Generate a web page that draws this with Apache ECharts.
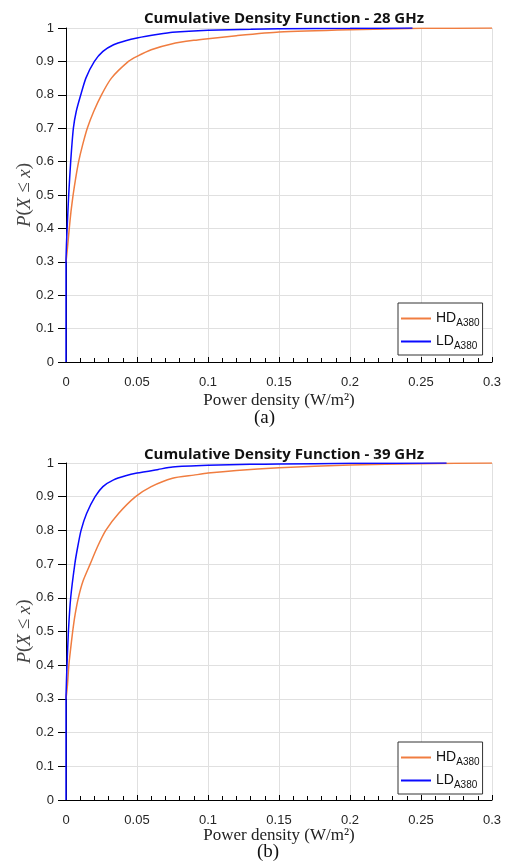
<!DOCTYPE html>
<html>
<head>
<meta charset="utf-8">
<script src="https://cdn.jsdelivr.net/npm/echarts@6/dist/echarts.min.js"></script>
<style>
  html, body { margin: 0; padding: 0; background: #fff; }
  #chart { width: 505px; height: 868px; }
</style>
</head>
<body>
<div id="chart"></div>
<script>
// CDF curves (x: W/m^2, y: probability)
const ld28X = [0, 0, 0.0003, 0.0008, 0.0019, 0.0033, 0.0052, 0.0072, 0.0104, 0.014, 0.020, 0.026, 0.0335, 0.042, 0.05, 0.065, 0.075, 0.1, 0.13, 0.15, 0.2, 0.244];
const ld28Y = [0, 0.30, 0.35, 0.40, 0.50, 0.60, 0.70, 0.75, 0.80, 0.85, 0.90, 0.93, 0.95, 0.962, 0.97, 0.981, 0.987, 0.993, 0.996, 0.998, 0.999, 1.0];
const hd28X = [0, 0.001, 0.0023, 0.0035, 0.005, 0.0068, 0.0089, 0.0117, 0.015, 0.0195, 0.025, 0.032, 0.044, 0.05, 0.06, 0.075, 0.09, 0.1, 0.12, 0.15, 0.2, 0.25, 0.3];
const hd28Y = [0.30, 0.34, 0.40, 0.45, 0.50, 0.55, 0.60, 0.65, 0.70, 0.75, 0.80, 0.85, 0.90, 0.915, 0.935, 0.953, 0.963, 0.968, 0.977, 0.988, 0.995, 0.999, 1.0];
const ld39X = [0, 0, 0.0003, 0.0007, 0.0017, 0.0033, 0.0062, 0.0082, 0.0106, 0.0145, 0.0205, 0.026, 0.0335, 0.042, 0.05, 0.065, 0.075, 0.1, 0.13, 0.15, 0.2, 0.268];
const ld39Y = [0, 0.30, 0.35, 0.40, 0.50, 0.60, 0.70, 0.75, 0.80, 0.85, 0.90, 0.93, 0.95, 0.962, 0.97, 0.981, 0.988, 0.993, 0.996, 0.997, 0.999, 1.0];
const hd39X = [0, 0.001, 0.002, 0.0033, 0.0047, 0.0064, 0.0087, 0.012, 0.017, 0.022, 0.028, 0.037, 0.049, 0.06, 0.075, 0.09, 0.1, 0.12, 0.15, 0.2, 0.25, 0.3];
const hd39Y = [0.30, 0.34, 0.40, 0.45, 0.50, 0.55, 0.60, 0.65, 0.70, 0.75, 0.80, 0.85, 0.90, 0.93, 0.955, 0.964, 0.97, 0.978, 0.986, 0.994, 0.998, 1.0];
const xTicks = [0, 0.05, 0.1, 0.15, 0.2, 0.25, 0.3];
const titles = ['Cumulative Density Function - 28 GHz', 'Cumulative Density Function - 39 GHz'];
const captions = ['(a)', '(b)'];

const HD_COLOR = '#f07d40';
const LD_COLOR = '#0a0aff';

function pairs(xs, ys) {
  return xs.map((x, i) => [x, ys[i]]);
}

const chart = echarts.init(document.getElementById('chart'));

const grids = [
  { left: 66, width: 426, top: 28, height: 334 },
  { left: 66, width: 426, top: 463, height: 337 }
];

function xAxisOf(idx, gap) {
  return {
    gridIndex: idx,
    type: 'value',
    min: 0,
    max: 0.3,
    interval: 0.05,
    name: 'Power density (W/m²)',
    nameLocation: 'middle',
    nameGap: gap,
    nameMoveOverlap: false,
    nameTextStyle: { fontFamily: 'Liberation Serif', fontSize: 17, color: '#222' },
    axisLine: { show: true, onZero: false, lineStyle: { color: '#000', width: 1 } },
    axisTick: { show: true, inside: true, length: 5, lineStyle: { color: '#000' } },
    minorTick: { show: true, splitNumber: 5, length: 4, lineStyle: { color: '#000' } },
    axisLabel: {
      fontFamily: 'Liberation Sans', fontSize: 13, color: '#262626', margin: 14,
      formatter: v => {
        const t = xTicks.find(k => Math.abs(k - v) < 1e-9);
        return t === undefined ? '' : String(t);
      }
    },
    splitLine: { show: true, lineStyle: { color: '#e0e0e0', width: 1 } }
  };
}

function yAxisOf(idx) {
  return {
    gridIndex: idx,
    type: 'value',
    min: 0,
    max: 1,
    interval: 0.1,
    name: '{i|P}{r|(}{i|X}{r| ≤ }{i|x}{r|)}',
    nameLocation: 'middle',
    nameGap: 32,
    nameMoveOverlap: false,
    nameTextStyle: {
      rich: {
        i: { fontFamily: 'Liberation Serif', fontStyle: 'italic', fontSize: 19, color: '#444' },
        r: { fontFamily: 'Liberation Serif', fontSize: 19, color: '#444' }
      }
    },
    axisLine: { show: true, onZero: false, lineStyle: { color: '#000', width: 1 } },
    axisTick: { show: true, inside: false, length: 8, lineStyle: { color: '#000' } },
    axisLabel: { fontFamily: 'Liberation Sans', fontSize: 13, color: '#262626', margin: 12 },
    splitLine: { show: true, lineStyle: { color: '#e0e0e0', width: 1 } }
  };
}

function legendOf(top) {
  return {
    orient: 'vertical',
    left: 398,
    top: top,
    padding: [6, 3, 4, 3],
    itemGap: 4,
    itemWidth: 30,
    itemHeight: 2,
    icon: 'rect',
    backgroundColor: '#fff',
    borderColor: '#333',
    borderWidth: 1,
    borderRadius: 0,
    data: ['HD', 'LD'],
    formatter: name => '{m|' + name + '}{s|A380}',
    textStyle: {
      rich: {
        m: { fontFamily: 'Liberation Sans', fontSize: 14, color: '#111', lineHeight: 20 },
        s: { fontFamily: 'Liberation Sans', fontSize: 10, color: '#111', lineHeight: 20, padding: [9, 0, 0, 0] }
      }
    }
  };
}

function lineSeries(name, color, data, idx) {
  return {
    name: name,
    type: 'line',
    xAxisIndex: idx,
    yAxisIndex: idx,
    data: data,
    symbol: 'none',
    smooth: 0.2,
    lineStyle: { color: color, width: 1.5 },
    itemStyle: { color: color },
    animation: false,
    z: name === 'LD' ? 3 : 2
  };
}

chart.setOption({
  animation: false,
  title: [
    { text: titles[0], left: 279, top: 6, textAlign: 'center',
      textStyle: { fontFamily: 'Open Sans', fontWeight: 'bold', fontSize: 15, color: '#111' } },
    { text: titles[1], left: 279, top: 442, textAlign: 'center',
      textStyle: { fontFamily: 'Open Sans', fontWeight: 'bold', fontSize: 15, color: '#111' } }
  ],
  legend: [legendOf(303), legendOf(742)],
  grid: grids,
  xAxis: [xAxisOf(0, 30), xAxisOf(1, 27)],
  yAxis: [yAxisOf(0), yAxisOf(1)],
  series: [
    lineSeries('HD', HD_COLOR, pairs(hd28X, hd28Y), 0),
    lineSeries('LD', LD_COLOR, pairs(ld28X, ld28Y), 0),
    lineSeries('HD', HD_COLOR, pairs(hd39X, hd39Y), 1),
    lineSeries('LD', LD_COLOR, pairs(ld39X, ld39Y), 1)
  ],
  graphic: [
    { type: 'text', left: 254, top: 409,
      style: { text: captions[0], fontFamily: 'Liberation Serif', fontSize: 19, fill: '#111' } },
    { type: 'text', left: 257, top: 843,
      style: { text: captions[1], fontFamily: 'Liberation Serif', fontSize: 19, fill: '#111' } }
  ]
});
</script>
</body>
</html>
